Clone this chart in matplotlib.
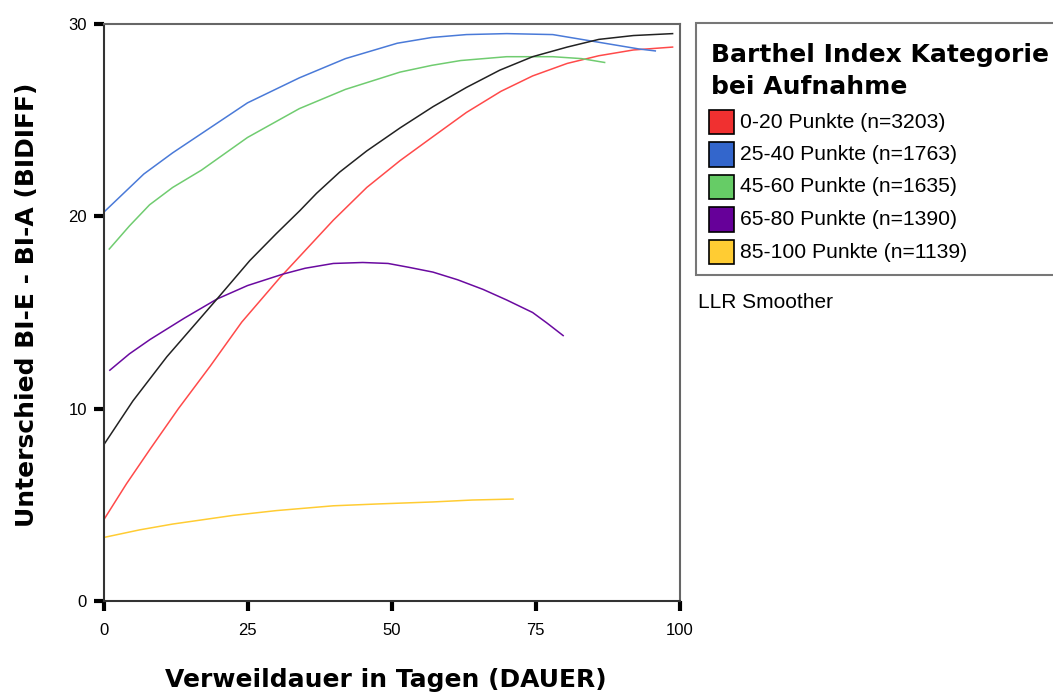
import matplotlib
matplotlib.use('Agg')
import matplotlib.pyplot as plt
from matplotlib.patches import Rectangle

plt.rcParams['font.family'] = ['Liberation Sans', 'DejaVu Sans']

# LLR-geglaettete Kurven je Barthel-Kategorie
x_0_20 = [0, 4, 8.1, 13, 18.5, 24, 30.6, 39.9, 45.7, 51.5, 57, 63, 69, 74.5, 80.5, 86, 92, 98.8]
y_0_20 = [4.2, 6.1, 7.9, 10.0, 12.2, 14.5, 16.8, 19.8, 21.5, 22.9, 24.1, 25.4, 26.5, 27.3, 27.95, 28.35, 28.65, 28.8]

x_25_40 = [0, 3.5, 7, 12, 17, 25, 34, 42, 51, 57, 63, 70, 78, 82, 86, 93, 95.8]
y_25_40 = [20.2, 21.2, 22.2, 23.3, 24.3, 25.9, 27.2, 28.2, 29.0, 29.3, 29.45, 29.5, 29.45, 29.25, 29.05, 28.7, 28.6]

x_45_60 = [1, 4.5, 8, 12, 17, 25, 34, 42, 51.5, 57, 62, 70, 78, 83, 87]
y_45_60 = [18.3, 19.5, 20.6, 21.5, 22.4, 24.1, 25.6, 26.6, 27.5, 27.85, 28.1, 28.3, 28.3, 28.2, 28.0]

x_65_80 = [1.1, 4.5, 8.1, 14, 19.7, 25, 31.2, 35, 39.9, 45, 49.4, 53, 57.2, 61.5, 65.9, 70, 74.5, 77, 79.8]
y_65_80 = [12.0, 12.85, 13.6, 14.7, 15.7, 16.4, 17.0, 17.3, 17.55, 17.6, 17.55, 17.35, 17.1, 16.7, 16.2, 15.65, 15.0, 14.45, 13.8]

x_85_100 = [0, 6.3, 12, 22.5, 30, 39.9, 48, 57.2, 64, 71.1]
y_85_100 = [3.3, 3.7, 4.0, 4.45, 4.7, 4.95, 5.05, 5.15, 5.25, 5.3]

# Gesamtkurve (schwarz)
x_total = [0, 5.1, 11, 19.7, 25.4, 30, 34.1, 37, 41, 45.7, 51.5, 57.2, 63, 68.8, 74.5, 80.5, 86, 92, 98.8]
y_total = [8.1, 10.4, 12.7, 15.7, 17.7, 19.1, 20.3, 21.2, 22.3, 23.4, 24.6, 25.7, 26.7, 27.6, 28.3, 28.8, 29.2, 29.4, 29.5]

labels = ['0-20 Punkte (n=3203)', '25-40 Punkte (n=1763)', '45-60 Punkte (n=1635)',
          '65-80 Punkte (n=1390)', '85-100 Punkte (n=1139)']
line_colors = ['#ff4a4a', '#4a7ad8', '#70cc70', '#6a0aa0', '#ffcc33']
box_colors = ['#f03030', '#3366cc', '#66cc66', '#660099', '#ffcc33']

W, H = 1053, 693
fig = plt.figure(figsize=(W / 100, H / 100), dpi=100)
ax = fig.add_axes([103.5 / W, 1 - 601 / H, (679.5 - 103.5) / W, (601 - 24) / H])

series = [(x_0_20, y_0_20), (x_25_40, y_25_40), (x_45_60, y_45_60),
          (x_65_80, y_65_80), (x_85_100, y_85_100)]
for (xs, ys), c in zip(series, line_colors):
    ax.plot(xs, ys, color=c, lw=1.1)
ax.plot(x_total, y_total, color='#222222', lw=1.1)

ax.set_xlim(0, 100)
ax.set_ylim(0, 30)
ax.set_xticks([0, 25, 50, 75, 100])
ax.set_yticks([0, 10, 20, 30])
ax.tick_params(direction='out', length=7, width=3, color='black', labelsize=12, pad=5)
ax.tick_params(axis='x', pad=9)
for s in ['left', 'bottom']:
    ax.spines[s].set_color('#333333')
    ax.spines[s].set_linewidth(1.5)
for s in ['top', 'right']:
    ax.spines[s].set_color('#666666')
    ax.spines[s].set_linewidth(1.5)

bold = ['DejaVu Sans']
fig.text(386 / W, 1 - 687 / H, 'Verweildauer in Tagen (DAUER)', ha='center', va='baseline',
         fontsize=18, fontweight='bold', family=bold)
fig.text(27 / W, 1 - 305 / H, 'Unterschied BI-E - BI-A (BIDIFF)', ha='center', va='center',
         rotation=90, fontsize=18, fontweight='bold', family=bold)

# Legende
fig.patches.append(Rectangle((696 / W, 1 - 275 / H), 380 / W, 252 / H, transform=fig.transFigure,
                             facecolor='white', edgecolor='#777777', lw=1.5))
fig.text(711 / W, 1 - 62 / H, 'Barthel Index Kategorie', fontsize=18, fontweight='bold',
         va='baseline', family=bold)
fig.text(711 / W, 1 - 94 / H, 'bei Aufnahme', fontsize=18, fontweight='bold',
         va='baseline', family=bold)
for i, (lab, c) in enumerate(zip(labels, box_colors)):
    yc = 122 + i * 32.5
    fig.patches.append(Rectangle((709 / W, 1 - (yc + 12) / H), 25 / W, 24 / H,
                                 transform=fig.transFigure, facecolor=c, edgecolor='black', lw=1.2))
    fig.text(740 / W, 1 - yc / H, lab, fontsize=15.2, va='center')
fig.text(698 / W, 1 - 302 / H, 'LLR Smoother', fontsize=15, va='center')

fig.savefig('out.png', dpi=100)
